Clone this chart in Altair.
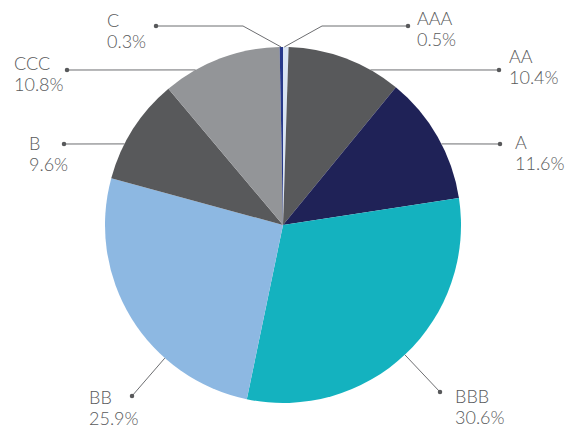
import math
import altair as alt
import pandas as pd

# ---- data ----
categories = ["AAA", "AA", "A", "BBB", "BB", "B", "CCC", "C"]
values = [0.5, 10.4, 11.6, 30.6, 25.9, 9.6, 10.8, 0.3]
colors = ["#d9e4f3", "#58595b", "#1f2257", "#14b2bf", "#8db8e2", "#58595b", "#939598", "#27398b"]

# ---- layout (annotation placement) ----
W, H = 571, 429
CX, CY, R = 283, 225, 178
attach_deg = [0.4, 29.4, 62.9, 136.8, 221.6, 297.1, 330.6, 359.4]
dot_xy = [(408, 26), (499, 70), (500, 144), (440, 392), (132, 396), (64, 144), (67, 70), (156, 26)]
elbow_xy = {"AAA": (322, 26), "C": (243, 26)}
text_xy = [(417, 25), (509, 63), (515, 149), (455, 403), (89, 404), (29, 150), (14, 70), (107, 27)]
LINE_GAP = 21

pie_df = pd.DataFrame({"cat": categories, "val": values, "idx": list(range(len(categories)))})

line_rows, dot_rows, text_rows = [], [], []
for i, c in enumerate(categories):
    a = math.radians(attach_deg[i])
    ax, ay = CX + R * math.sin(a), CY - R * math.cos(a)
    pts = [(ax, ay)]
    if c in elbow_xy:
        pts.append(elbow_xy[c])
    pts.append(dot_xy[i])
    for k, (px, py) in enumerate(pts):
        line_rows.append({"cat": c, "k": k, "px": px, "py": py})
    dot_rows.append({"cat": c, "px": dot_xy[i][0], "py": dot_xy[i][1]})
    tx, ty = text_xy[i]
    text_rows.append({"t": c, "px": tx, "py": ty})
    text_rows.append({"t": f"{values[i]}%", "px": tx, "py": ty + LINE_GAP})

xs = alt.Scale(domain=[0, W], range=[0, W])
ys = alt.Scale(domain=[0, H], range=[0, H])

pie = alt.Chart(pie_df).mark_arc(radius=R).encode(
    theta=alt.Theta("val:Q", stack=True),
    order=alt.Order("idx:Q"),
    color=alt.Color("cat:N", scale=alt.Scale(domain=categories, range=colors), legend=None),
    x=alt.value(CX),
    y=alt.value(CY),
)

lines = alt.Chart(pd.DataFrame(line_rows)).mark_line(color="#6d6e71", strokeWidth=1).encode(
    x=alt.X("px:Q", scale=xs, axis=None),
    y=alt.Y("py:Q", scale=ys, axis=None),
    detail="cat:N",
    order="k:Q",
)

dots = alt.Chart(pd.DataFrame(dot_rows)).mark_circle(color="#58595b", opacity=1, size=20).encode(
    x=alt.X("px:Q", scale=xs, axis=None),
    y=alt.Y("py:Q", scale=ys, axis=None),
)

texts = alt.Chart(pd.DataFrame(text_rows)).mark_text(
    align="left", baseline="alphabetic", font="Lato", fontSize=18, fontWeight=300, color="#58595b"
).encode(
    x=alt.X("px:Q", scale=xs, axis=None),
    y=alt.Y("py:Q", scale=ys, axis=None),
    text="t:N",
)

chart = alt.layer(pie, lines, dots, texts).properties(
    width=W, height=H, padding=0, autosize=alt.AutoSizeParams(type="none"), background="white"
).configure_view(stroke=None)

chart.save("out.html", embed_options={"renderer": "svg", "actions": False})
